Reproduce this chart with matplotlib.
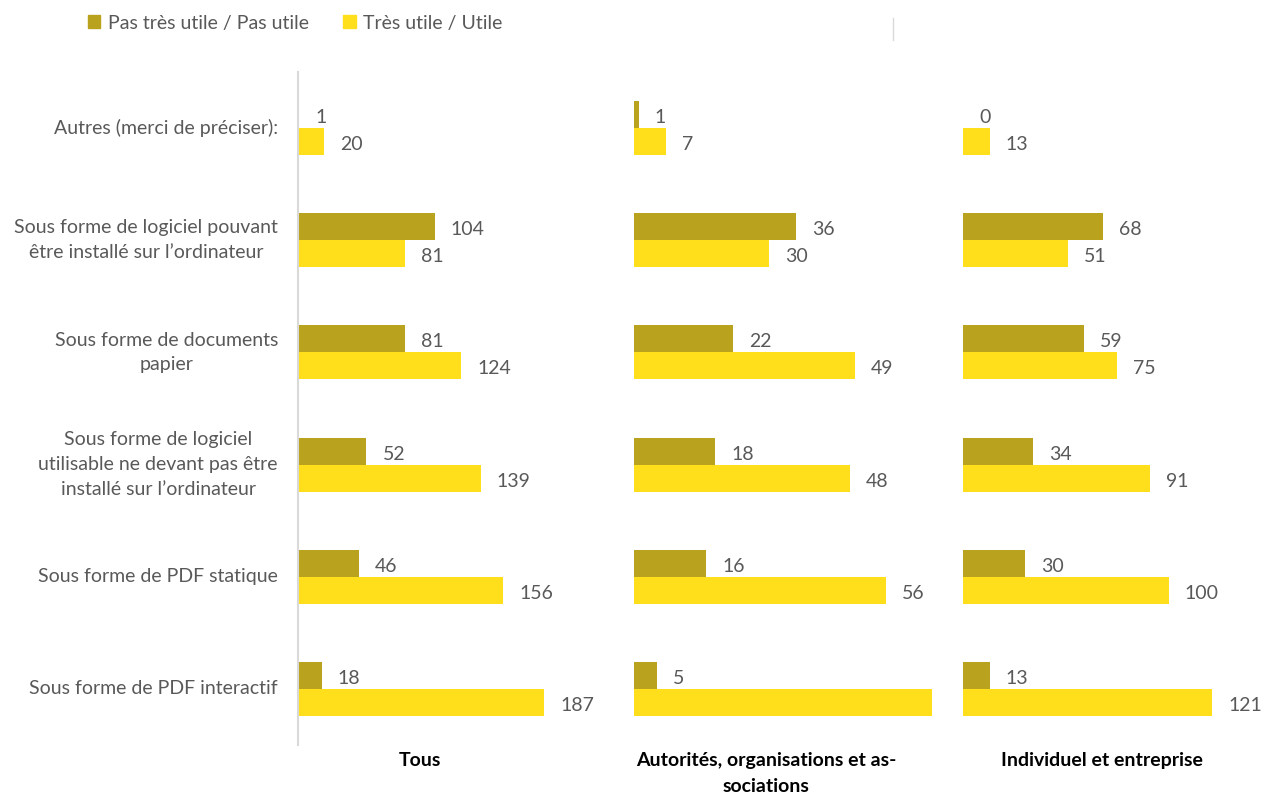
import numpy as np
import matplotlib.pyplot as plt

plt.rcParams['font.family'] = ['Lato', 'DejaVu Sans']

categories = [
    "Autres (merci de préciser):",
    "Sous forme de logiciel pouvant\nêtre installé sur l’ordinateur",
    "Sous forme de documents\npapier",
    "Sous forme de logiciel\nutilisable ne devant pas être\ninstallé sur l’ordinateur",
    "Sous forme de PDF statique",
    "Sous forme de PDF interactif",
]
panels = ["Tous", "Autorités, organisations et as-\nsociations", "Individuel et entreprise"]

# Pas très utile / Pas utile
not_useful = [
    [1, 104, 81, 52, 46, 18],
    [1, 36, 22, 18, 16, 5],
    [0, 68, 59, 34, 30, 13],
]
# Très utile / Utile
useful = [
    [20, 81, 124, 139, 156, 187],
    [7, 30, 49, 48, 56, 70],
    [13, 51, 75, 91, 100, 121],
]

DARK = "#B9A21E"
YELLOW = "#FFDE1C"
TXT = "#595959"

W, H = 1261, 796
fig = plt.figure(figsize=(W / 100, H / 100), dpi=100)

# axes boxes in pixels: left, right, xmax
boxes = [(298, 600, 229.5), (634, 932, 66.2), (963, 1255, 141.9)]
top, bottom = 72, 745
title_x = [420, 766, 1102]

y = np.arange(len(categories))
bh = 0.24
for i, (l, r, xmax) in enumerate(boxes):
    ax = fig.add_axes([l / W, 1 - bottom / H, (r - l) / W, (bottom - top) / H])
    ax.barh(y - bh / 2, not_useful[i], height=bh, color=DARK)
    ax.barh(y + bh / 2, useful[i], height=bh, color=YELLOW)
    ax.set_xlim(0, xmax)
    ax.set_ylim(len(categories) - 0.5, -0.5)
    for s in ax.spines.values():
        s.set_visible(False)
    ax.set_xticks([])
    ax.set_yticks([])
    if i == 0:
        ax.spines['left'].set_visible(True)
        ax.spines['left'].set_color("#D9D9D9")
        ax.spines['left'].set_linewidth(1.5)
    for vals, off in ((not_useful[i], -bh / 2), (useful[i], bh / 2)):
        for k, v in enumerate(vals):
            if v >= xmax * 0.97:
                continue
            ax.annotate(str(v), (v, y[k] + off), xytext=(16, -3), textcoords="offset pixels",
                        ha="left", va="center", fontsize=14, color=TXT)
    fig.text(title_x[i] / W, 1 - 752 / H, panels[i], ha="center", va="top",
             fontsize=14, fontweight="bold", color="black", linespacing=1.65)

# category labels
row_h = (bottom - top) / len(categories)
for k, c in enumerate(categories):
    yc = top + row_h * (k + 0.5)
    fig.text(278 / W, 1 - yc / H, c, ha="right", va="center", fontsize=14,
             color=TXT, multialignment="center", linespacing=1.55)

# legend
fig.legend(handles=[plt.Rectangle((0, 0), 1, 1, color=DARK),
                    plt.Rectangle((0, 0), 1, 1, color=YELLOW)],
           labels=["Pas très utile / Pas utile", "Très utile / Utile"],
           loc="center left", bbox_to_anchor=(70 / W, 1 - 23 / H), ncol=2, frameon=False,
           handlelength=0.65, handleheight=0.65, handletextpad=0.4, columnspacing=1.75,
           fontsize=14, labelcolor=TXT)

fig.add_artist(plt.Line2D([893 / W, 893 / W], [1 - 18 / H, 1 - 40 / H], color="#D9D9D9", lw=1))

fig.savefig("out.png", dpi=100, facecolor="white")
